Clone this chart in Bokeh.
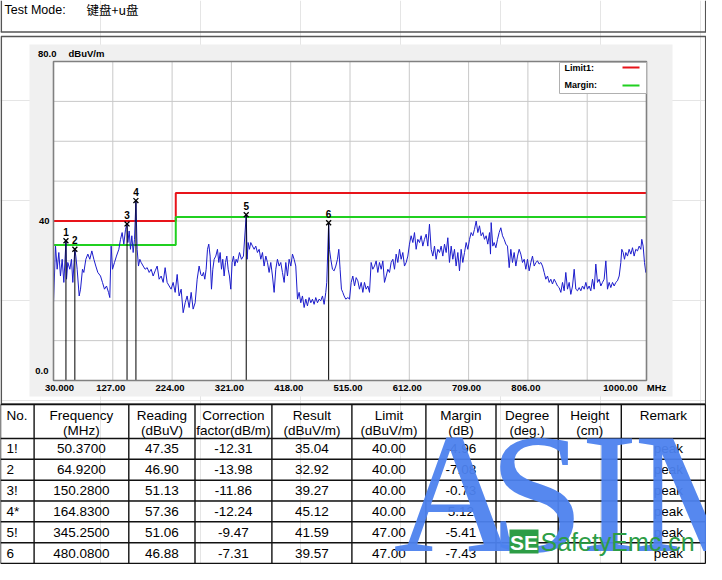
from bokeh.plotting import figure
from bokeh.models import Range1d
from bokeh.core.properties import value
from bokeh.embed import file_html
from bokeh.resources import INLINE

# ---------------- data ----------------
test_mode = "键盘+u盘"

x_ticks = [30, 127, 224, 321, 418, 515, 612, 709, 806, 1000]
x_tick_labels = ["30.000", "127.00", "224.00", "321.00", "418.00", "515.00",
                 "612.00", "709.00", "806.00", "1000.00"]
x_grid = [127, 224, 321, 418, 515, 612, 709, 806, 903]
y_grid = [10, 20, 30, 40, 50, 60, 70]
y_tick_vals = [80, 40, 0]
y_tick_labels = ["80.0", "40", "0.0"]

limit_f = [30, 230, 230, 1000]
limit_db = [40, 40, 47, 47]
margin_db = [34, 34, 41, 41]

trace_f = [
    30.0, 33.3, 36.0, 38.7, 41.4, 44.2, 46.9, 50.4, 51.3, 53.4,
    56.7, 59.4, 61.6, 64.9, 66.5, 68.7, 72.0, 74.2, 77.4, 79.6,
    82.9, 86.2, 89.4, 92.7, 96.0, 99.2, 102.5, 106.9, 110.1, 113.4,
    116.7, 120.0, 122.1, 124.3, 126.5, 129.8, 133.0, 136.9, 139.6, 142.3,
    145.0, 147.8, 150.3, 151.6, 153.8, 155.9, 158.1, 160.3, 162.5, 164.8,
    166.8, 169.0, 171.2, 173.4, 176.7, 179.9, 183.2, 186.5, 189.7, 193.0,
    196.3, 199.6, 202.8, 206.1, 209.4, 212.6, 215.9, 219.2, 222.4, 225.7,
    229.0, 232.3, 235.5, 238.8, 242.1, 245.4, 248.6, 251.9, 255.2, 258.4,
    261.7, 265.0, 268.2, 271.0, 273.1, 275.3, 277.5, 279.7, 281.9, 284.0,
    286.2, 288.4, 290.6, 292.8, 295.5, 298.2, 300.4, 302.6, 304.8, 306.9,
    309.1, 311.3, 313.5, 315.7, 317.8, 320.0, 322.2, 324.4, 326.6, 328.7,
    330.9, 334.2, 337.5, 340.7, 343.5, 345.3, 346.7, 348.4, 350.5, 352.7,
    355.5, 358.2, 360.9, 363.6, 366.4, 369.1, 371.8, 374.5, 377.3, 380.0,
    382.7, 385.4, 388.2, 390.9, 393.6, 396.3, 399.1, 401.8, 404.5, 407.3,
    410.0, 412.7, 415.4, 418.2, 420.9, 423.6, 426.3, 429.1, 431.8, 434.5,
    437.2, 440.0, 442.7, 445.4, 448.1, 450.9, 453.6, 456.3, 459.0, 461.8,
    464.5, 467.2, 470.0, 472.7, 475.4, 477.0, 480.1, 481.4, 483.6, 486.3,
    489.0, 491.8, 494.5, 496.7, 498.8, 501.0, 503.2, 505.4, 508.1, 511.5,
    514.2, 516.9, 519.6, 522.4, 525.1, 527.8, 530.5, 533.3, 536.0, 538.7,
    541.4, 544.2, 546.9, 549.6, 552.3, 555.1, 557.8, 560.5, 563.2, 566.0,
    568.7, 571.4, 574.2, 576.9, 579.6, 582.3, 585.1, 587.8, 590.5, 593.2,
    596.0, 598.7, 601.4, 604.1, 606.9, 609.6, 612.3, 615.0, 617.8, 620.5,
    623.2, 625.9, 628.7, 631.4, 634.1, 636.8, 639.6, 642.3, 645.0, 647.8,
    650.5, 653.2, 655.9, 658.7, 661.4, 664.1, 666.8, 669.6, 672.3, 675.0,
    677.7, 680.5, 683.2, 685.9, 688.6, 691.4, 694.1, 696.8, 699.5, 702.3,
    705.0, 707.7, 710.5, 713.2, 715.9, 718.6, 721.4, 724.1, 726.8, 729.5,
    732.3, 735.0, 737.7, 740.4, 743.2, 744.8, 745.9, 748.6, 750.8, 753.6,
    756.3, 759.0, 761.7, 764.5, 767.2, 769.9, 772.6, 775.4, 778.1, 780.8,
    783.5, 786.3, 789.0, 791.7, 794.4, 797.2, 799.9, 802.6, 805.3, 808.1,
    810.8, 813.5, 816.3, 819.0, 821.7, 824.4, 827.2, 829.9, 832.6, 835.3,
    838.1, 840.8, 843.5, 846.2, 849.0, 851.7, 854.4, 857.1, 859.9, 862.6,
    865.3, 868.0, 870.8, 873.5, 876.2, 879.0, 881.7, 884.4, 887.1, 889.9,
    892.6, 895.3, 898.0, 900.8, 903.5, 906.2, 908.9, 911.7, 914.4, 917.1,
    919.8, 922.6, 925.3, 928.0, 930.7, 933.5, 936.2, 938.9, 941.6, 944.4,
    947.1, 949.8, 952.5, 955.3, 958.0, 959.6, 961.8, 964.0, 966.2, 968.9,
    971.6, 974.4, 977.1, 979.8, 982.5, 985.3, 988.0, 990.7, 992.3, 994.5,
    996.7, 998.9, 1000.0,
]
trace_db = [
    19.5, 33.7, 27.9, 32.1, 26.2, 30.4, 24.6, 35.0, 25.4, 29.6,
    27.9, 30.4, 24.6, 32.9, 31.2, 27.9, 21.2, 22.9, 27.9, 27.1,
    30.4, 31.7, 30.4, 32.5, 30.4, 28.7, 27.1, 26.2, 24.6, 22.9,
    23.7, 22.1, 20.8, 33.7, 27.9, 29.6, 31.2, 32.9, 35.4, 37.1,
    34.2, 37.9, 39.3, 34.6, 37.5, 32.9, 36.3, 32.1, 35.4, 45.1,
    32.9, 28.7, 30.4, 29.6, 28.7, 27.9, 28.3, 27.1, 27.9, 26.2,
    27.5, 28.7, 25.4, 26.2, 24.6, 28.3, 24.6, 23.7, 22.9, 24.6,
    22.1, 26.6, 21.2, 22.9, 17.0, 19.5, 21.2, 18.3, 22.1, 17.9,
    19.5, 25.4, 28.7, 26.6, 26.2, 27.1, 25.4, 27.9, 32.9, 34.2,
    31.2, 22.9, 27.9, 30.4, 31.2, 32.9, 29.6, 32.1, 27.9, 30.4,
    26.2, 29.6, 31.2, 27.9, 26.2, 22.9, 29.6, 31.2, 28.7, 30.4,
    29.6, 32.1, 30.4, 31.2, 37.5, 41.6, 30.4, 34.6, 32.9, 34.6,
    33.7, 32.9, 33.7, 32.1, 32.9, 30.4, 32.1, 28.7, 31.2, 29.6,
    27.1, 29.6, 26.2, 22.1, 27.9, 30.4, 28.7, 29.6, 27.1, 24.6,
    29.6, 26.2, 30.4, 28.7, 31.7, 30.4, 28.7, 20.4, 22.1, 19.5,
    21.2, 18.3, 20.4, 18.7, 20.8, 19.5, 20.4, 19.1, 20.8, 19.5,
    20.4, 20.0, 21.2, 19.1, 22.1, 24.6, 39.6, 32.9, 30.4, 27.9,
    27.5, 28.7, 30.4, 32.9, 27.9, 22.9, 22.1, 21.2, 20.4, 20.8,
    20.4, 24.6, 26.2, 23.7, 25.8, 25.0, 22.9, 24.6, 22.1, 24.6,
    22.9, 23.7, 22.1, 29.6, 27.9, 28.7, 30.0, 27.1, 29.6, 27.9,
    30.0, 24.6, 26.2, 27.9, 27.1, 29.6, 30.4, 27.9, 31.7, 29.6,
    32.9, 30.4, 32.1, 28.7, 29.6, 31.2, 34.2, 36.3, 34.6, 37.1,
    32.9, 35.4, 34.6, 36.3, 33.7, 35.4, 36.7, 33.7, 39.2, 32.9,
    31.2, 33.7, 30.4, 32.9, 32.1, 33.7, 31.2, 34.2, 32.1, 35.8,
    29.6, 33.7, 30.4, 32.9, 28.7, 32.1, 27.5, 32.9, 29.6, 32.1,
    34.6, 32.9, 35.4, 37.1, 36.3, 37.9, 40.0, 37.1, 38.8, 36.3,
    37.1, 35.4, 36.3, 34.2, 37.1, 31.7, 39.6, 33.7, 34.6, 33.3,
    35.4, 37.1, 38.3, 36.3, 35.4, 34.2, 33.7, 28.3, 32.9, 29.6,
    32.1, 28.7, 31.2, 32.9, 31.7, 29.6, 30.4, 27.9, 30.4, 27.5,
    29.6, 31.2, 28.7, 29.6, 30.0, 29.2, 29.6, 28.7, 27.1, 25.4,
    26.2, 24.6, 25.4, 24.2, 25.4, 24.6, 23.7, 23.3, 22.1, 24.6,
    22.5, 27.1, 22.9, 24.6, 21.6, 23.7, 27.9, 22.9, 22.5, 23.3,
    22.5, 23.7, 22.9, 24.6, 22.9, 23.7, 22.5, 25.4, 22.9, 29.2,
    24.6, 25.4, 23.7, 24.6, 25.4, 30.0, 22.9, 24.6, 23.3, 24.6,
    23.7, 24.6, 25.0, 26.2, 29.6, 32.9, 32.1, 30.4, 32.1, 31.2,
    32.9, 31.7, 33.3, 31.2, 32.9, 32.5, 33.7, 32.9, 35.4, 33.7,
    29.6, 27.1, 27.9,
]

mk_no = ["1!", "2", "3!", "4*", "5!", "6"]
mk_label = ["1", "2", "3", "4", "5", "6"]
mk_freq = [50.37, 64.92, 150.28, 164.83, 345.25, 480.08]
mk_reading = [47.35, 46.90, 51.13, 57.36, 51.06, 46.88]
mk_corr = [-12.31, -13.98, -11.86, -12.24, -9.47, -7.31]
mk_result = [35.04, 32.92, 39.27, 45.12, 41.59, 39.57]
mk_limit = [40.00, 40.00, 40.00, 40.00, 47.00, 47.00]
mk_margin = [-4.96, -7.08, -0.73, 5.12, -5.41, -7.43]
mk_remark = ["peak", "peak", "peak", "peak", "peak", "peak"]

header_l1 = ["No.", "Frequency", "Reading", "Correction", "Result", "Limit",
             "Margin", "Degree", "Height", "Remark"]
header_l2 = ["", "(MHz)", "(dBuV)", "factor(dB/m)", "(dBuV/m)", "(dBuV/m)",
             "(dB)", "(deg.)", "(cm)", ""]

watermark = ["A", "S", "I", "M"]

# ---------------- layout (local px) ----------------
W, H = 706, 564
FX0, FX1, FY0, FY1 = 53, 646, 61, 380
F_MIN, F_MAX, DB_MIN, DB_MAX = 30, 1000, 0, 80
ppf = (FX1 - FX0) / (F_MAX - F_MIN)
ppd = (FY1 - FY0) / (DB_MAX - DB_MIN)

p = figure(width=W, height=H, x_range=Range1d(0, W), y_range=Range1d(H, 0),
           x_axis_location=None, y_axis_location=None, toolbar_location=None,
           output_backend="svg", min_border=0, outline_line_color=None)
p.background_fill_color = "white"
p.border_fill_color = "white"
p.extra_x_ranges = {"f": Range1d(F_MIN - FX0 / ppf, F_MAX + (W - FX1) / ppf)}
p.extra_y_ranges = {"db": Range1d(DB_MIN - (H - FY1) / ppd, DB_MAX + FY0 / ppd)}
FD = dict(x_range_name="f", y_range_name="db")

SANS = value("Liberation Sans")


def txt(x, y, t, size, bold=False, align="left", baseline="middle",
        color="black", font=SANS, **kw):
    p.text(x=x, y=y, text=t, text_font=font, text_font_size=f"{size}px",
           text_font_style="bold" if bold else "normal", text_align=align,
           text_baseline=baseline, text_color=color, **kw)


# header box
p.segment(x0=[0.75, 705.25, 0], y0=[0, 0, 31.5], x1=[0.75, 705.25, 706],
          y1=[31.5, 31.5, 31.5], line_color="#555555", line_width=1.6)
txt([4], [9], ["Test Mode:"], 12.5)
txt([86], [9], [test_mode], 12.5, font=value("Noto Sans CJK SC"))

# chart box
p.quad(left=[0.75], right=[705.25], top=[36], bottom=[403.5],
       fill_color=None, line_color="#555555", line_width=1.6)
p.quad(left=[29], right=[672], top=[44], bottom=[396],
       fill_color="#f0f0f0", line_color=None)

# plot frame
p.quad(left=[F_MIN], right=[F_MAX], bottom=[DB_MIN], top=[DB_MAX],
       fill_color="white", line_color=None, **FD)
p.segment(x0=x_grid, y0=[DB_MIN] * len(x_grid), x1=x_grid, y1=[DB_MAX] * len(x_grid),
          line_color="#c8c8c8", line_width=1, **FD)
p.segment(x0=[F_MIN] * len(y_grid), y0=y_grid, x1=[F_MAX] * len(y_grid), y1=y_grid,
          line_color="#c8c8c8", line_width=1, **FD)

p.line(limit_f, limit_db, line_color="#e8141a", line_width=2, **FD)
p.line(limit_f, margin_db, line_color="#20d020", line_width=2, **FD)
p.line(trace_f, trace_db, line_color="#1c1ccc", line_width=1, **FD)

p.segment(x0=mk_freq, y0=[0] * len(mk_freq), x1=mk_freq, y1=mk_result,
          line_color="black", line_width=1, **FD)
p.scatter(mk_freq, mk_result, marker="x", size=7, line_color="black",
          line_width=1.3, **FD)
txt(mk_freq, mk_result, mk_label, 10, bold=True, align="center",
    y_offset=-9, **FD)

p.quad(left=[F_MIN], right=[F_MAX], bottom=[DB_MIN], top=[DB_MAX],
       fill_color=None, line_color="#808080", line_width=1.6, **FD)

# legend box
p.quad(left=[559], right=[646], top=[62], bottom=[93], fill_color="white",
       line_color="#b0b0b0", line_width=1)
txt([564, 564], [67, 84], ["Limit1:", "Margin:"], 9, bold=True)
p.segment(x0=[622, 622], y0=[67, 85], x1=[639, 639], y1=[67, 85],
          line_color=["#e8141a", "#20d020"], line_width=2)

# axis labels
x_lab_off = [6, -2, -2, -2, -2, -2, -2, -2, -2, -26]
txt(x_ticks, [387] * len(x_ticks), x_tick_labels, 9.5, bold=True,
    align="center", x_offset=x_lab_off, x_range_name="f")
txt([656], [387], ["MHz"], 9.5, bold=True, align="center")
txt([56, 49, 48], y_tick_vals, y_tick_labels, 9.5, bold=True, align="right",
    y_offset=[-8, 0, -10], y_range_name="db")
txt([68], [53], ["dBuV/m"], 9.5, bold=True)

# table
col_x = [0, 33.6, 128.3, 194.5, 271.4, 351.4, 425.4, 495.5, 557.7, 620.8, 705]
row_y = [404, 438, 458.8, 479.7, 500.5, 521.3, 542.2, 563]
p.segment(x0=col_x, y0=[row_y[0]] * len(col_x), x1=col_x, y1=[row_y[-1]] * len(col_x),
          line_color="#111111", line_width=1.4)
p.segment(x0=[0] * len(row_y), y0=row_y, x1=[705] * len(row_y), y1=row_y,
          line_color="#111111", line_width=1.4)
centers = [(col_x[i] + col_x[i + 1]) / 2 for i in range(len(col_x) - 1)]
TS = 13.5
txt([6], [415], [header_l1[0]], TS)
txt(centers[1:], [415] * 9, header_l1[1:], TS, align="center")
txt(centers[1:9], [429.5] * 8, header_l2[1:9], TS, align="center")
row_c = [(row_y[i] + row_y[i + 1]) / 2 for i in range(1, len(row_y) - 1)]
n = len(mk_no)
txt([6] * n, row_c, mk_no, TS)
txt([centers[1]] * n, row_c, [f"{v:.4f}" for v in mk_freq], TS, align="center")
txt([centers[2]] * n, row_c, [f"{v:.2f}" for v in mk_reading], TS, align="center")
txt([centers[3]] * n, row_c, [f"{v:.2f}" for v in mk_corr], TS, align="center")
txt([centers[4]] * n, row_c, [f"{v:.2f}" for v in mk_result], TS, align="center")
txt([centers[5]] * n, row_c, [f"{v:.2f}" for v in mk_limit], TS, align="center")
txt([centers[6]] * n, row_c, [f"{v:.2f}" for v in mk_margin], TS, align="center")
txt([centers[9] + 5] * n, row_c, mk_remark, TS, align="center")

# watermark
p.text(x=[455, 536, 609, 710], y=[492] * 4, text=watermark,
       text_font=value("Liberation Serif"), text_font_size="172px",
       text_align="center", text_baseline="middle", text_color="#4d82ee",
       text_alpha=0.95)
p.quad(left=[509], right=[538], top=[529], bottom=[553], fill_color="#2d9d46",
       line_color=None)
txt([523.5], [541.5], ["SE"], 21, bold=True, align="center", color="white")
txt([540], [541.5], ["SafetyEmc.cn"], 25, color="#2d9d46")

open("out.html", "w").write(file_html(p, INLINE))
